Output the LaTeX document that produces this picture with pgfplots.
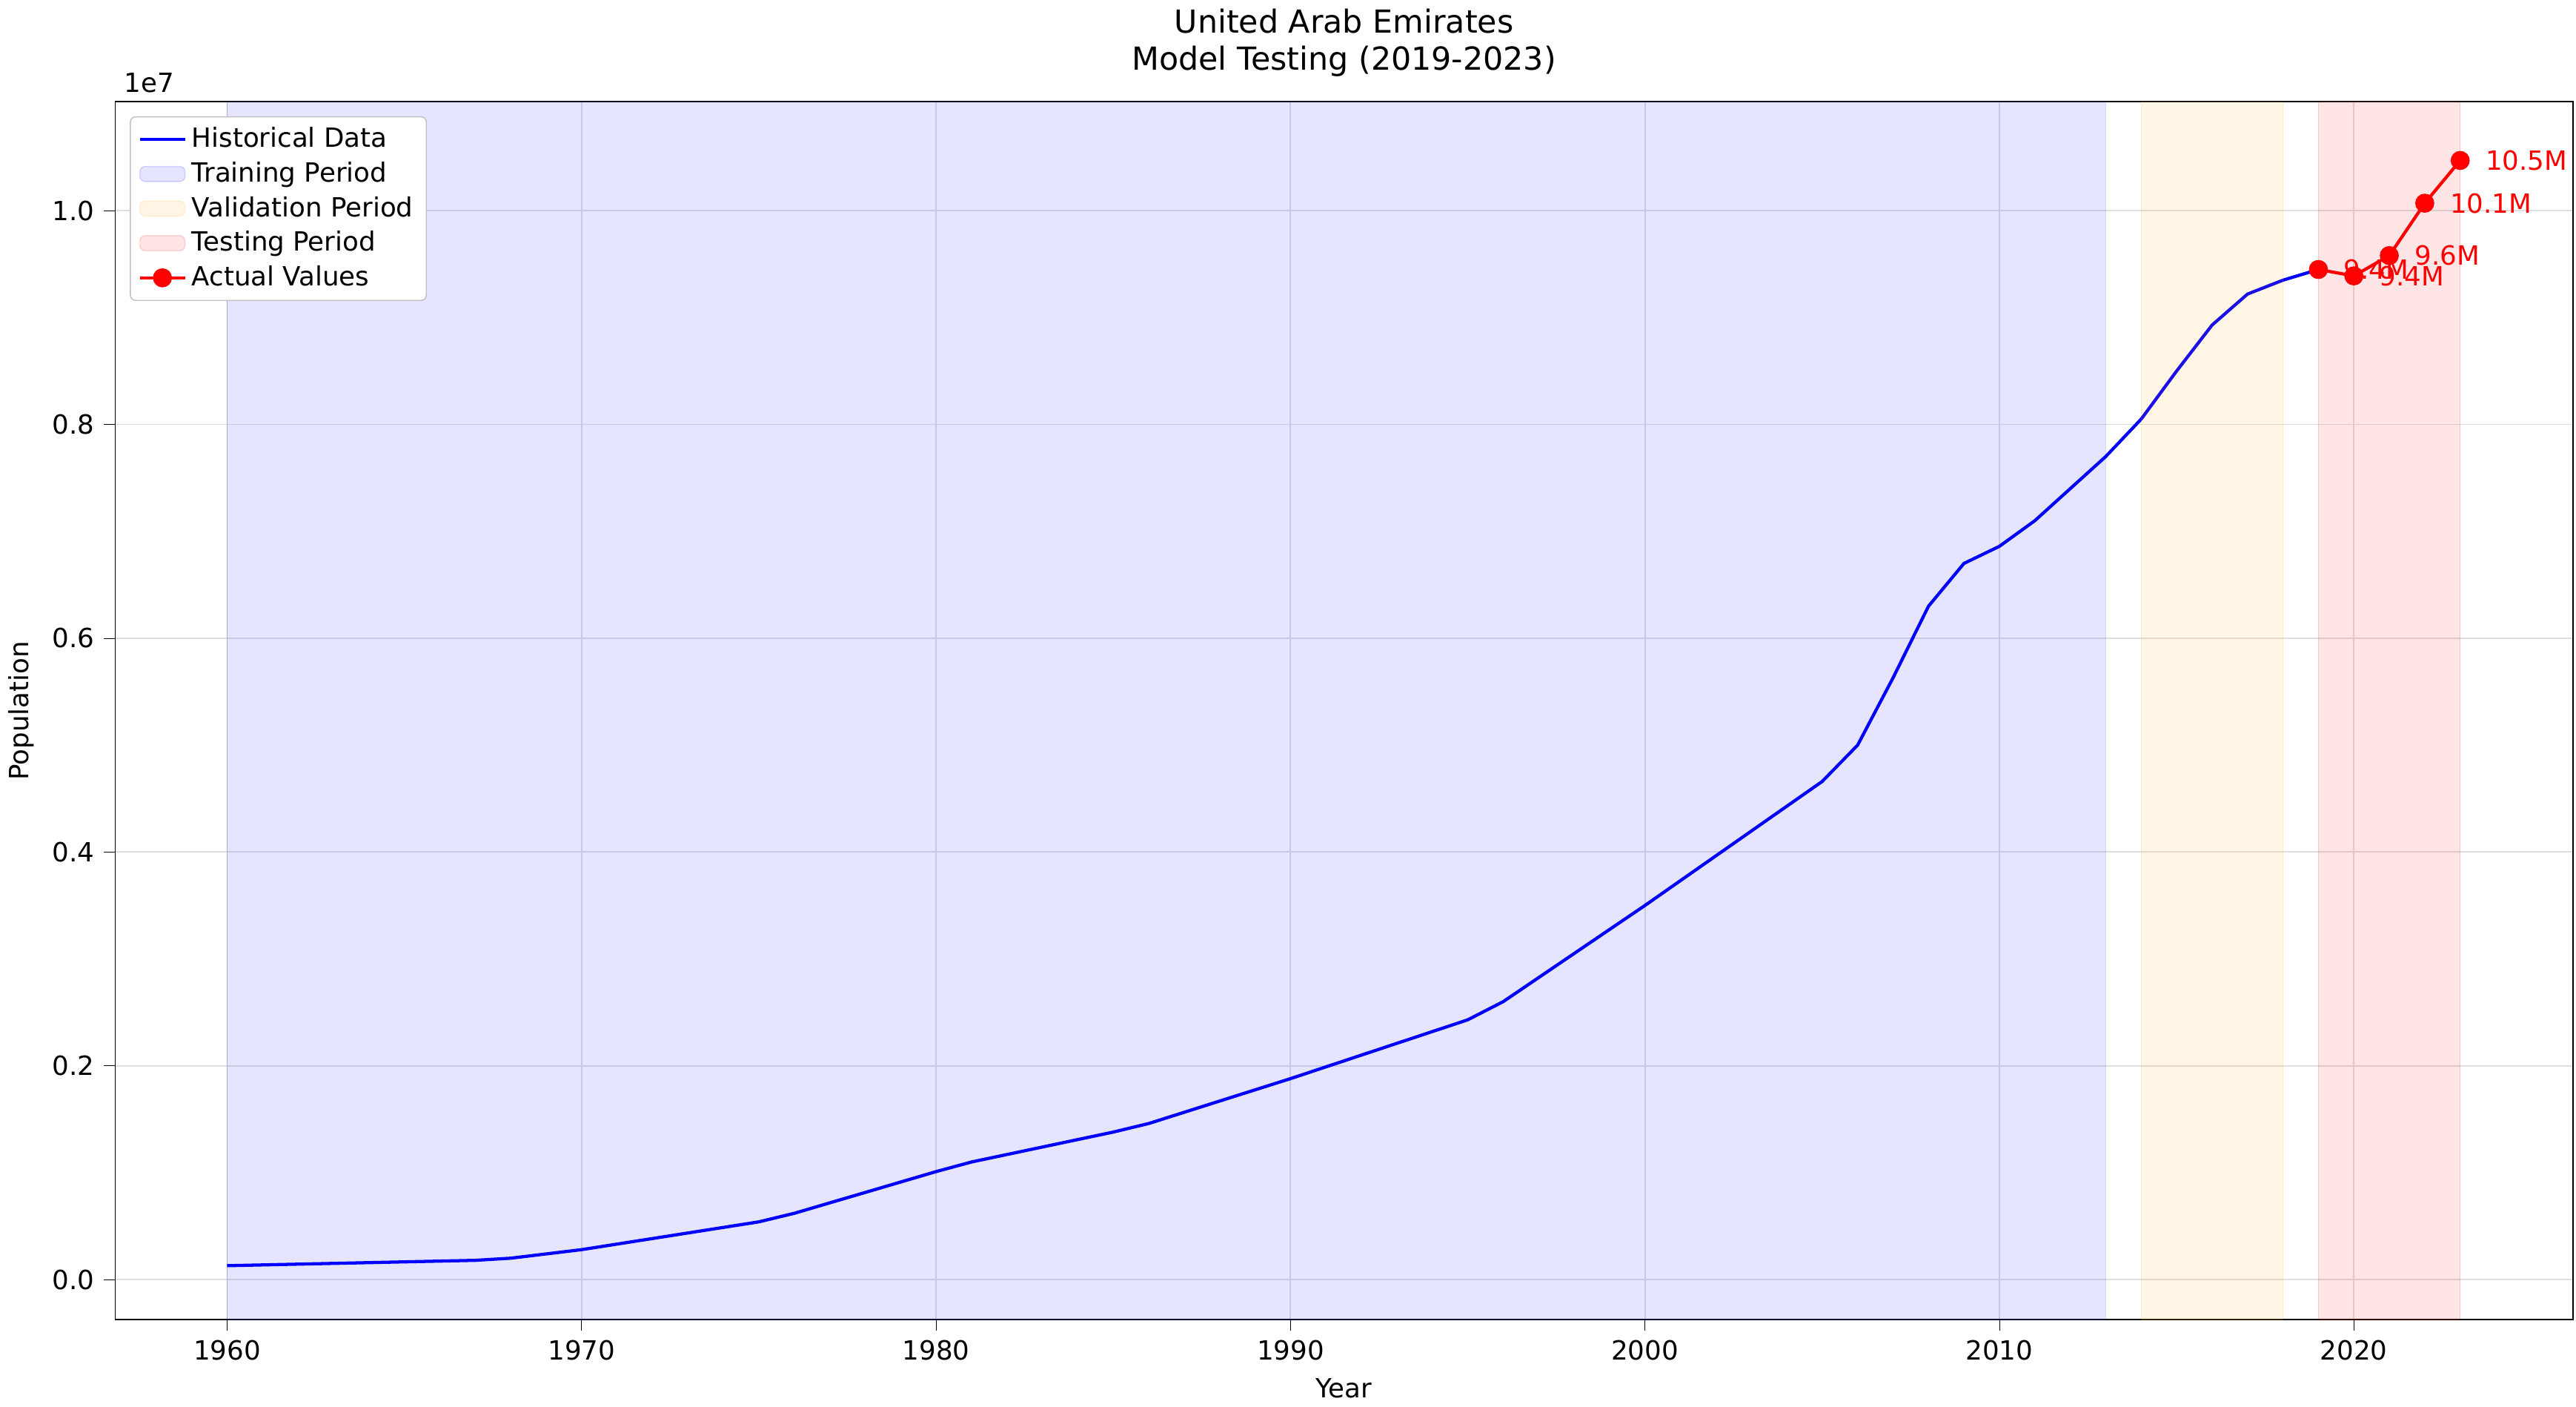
\documentclass[border=0pt]{standalone}
\usepackage{fontspec}
\setmainfont{DejaVu Sans}
\usepackage{pgfplots}
\pgfplotsset{compat=1.18}
\definecolor{mplorange}{rgb}{1,0.647,0}
\begin{document}
\begin{tikzpicture}
\begin{axis}[
  scale only axis, width=327mm, height=162mm,
  xmin=1956.84, xmax=2026.18, ymin=-0.375, ymax=11.02,
  xtick={1960,1970,...,2020},
  ytick={0,2,4,6,8,10},
  yticklabels={0.0,0.2,0.4,0.6,0.8,1.0},
  xtick pos=bottom, ytick pos=left,
  /pgf/number format/assume math mode=true,
  x tick label style={/pgf/number format/1000 sep={}},
  grid=major, grid style={gray!25, line width=0.5pt},
  tick align=outside, tick style={black},
  xlabel={Year}, ylabel={Population},
  title style={align=center, font=\large},
  title={United Arab Emirates\\Model Testing (2019-2023)},
  legend style={at={(0.006,0.988)}, anchor=north west, font=\normalsize, draw=gray!50, rounded corners=2pt},
  legend cell align=left,
  clip=true,
]
\addplot[blue, line width=1.2pt] coordinates {
(1960,0.13)(1967,0.18)(1968,0.20)(1970,0.28)(1975,0.54)(1976,0.62)(1980,1.01)(1981,1.10)(1985,1.38)(1986,1.46)(1990,1.88)(1995,2.43)(1996,2.60)(2000,3.50)(2005,4.66)(2006,5.00)(2007,5.63)(2008,6.30)(2009,6.70)(2010,6.86)(2011,7.10)(2012,7.40)(2013,7.70)(2014,8.05)(2015,8.50)(2016,8.93)(2017,9.22)(2018,9.35)(2019,9.45)};
\addlegendentry{Historical Data}
\addplot[fill=blue, fill opacity=0.1, draw=blue, draw opacity=0.15, area legend] coordinates {(1960,-0.375)(1960,11.02)(2013,11.02)(2013,-0.375)} -- cycle;
\addlegendentry{Training Period}
\addplot[fill=mplorange, fill opacity=0.1, draw=mplorange, draw opacity=0.15, area legend] coordinates {(2014,-0.375)(2014,11.02)(2018,11.02)(2018,-0.375)} -- cycle;
\addlegendentry{Validation Period}
\addplot[fill=red, fill opacity=0.1, draw=red, draw opacity=0.15, area legend] coordinates {(2019,-0.375)(2019,11.02)(2023,11.02)(2023,-0.375)} -- cycle;
\addlegendentry{Testing Period}
\addplot[red, line width=1.2pt, mark=*, mark size=3pt,
  nodes near coords, point meta=explicit symbolic,
  every node near coord/.style={anchor=west, xshift=2mm, text=red, font=\normalsize}]
  coordinates {(2019,9.45)[9.4M](2020,9.39)[9.4M](2021,9.58)[9.6M](2022,10.07)[10.1M](2023,10.47)[10.5M]};
\addlegendentry{Actual Values}
\end{axis}
\node[anchor=south west] at (0,162mm) {1e7};
\end{tikzpicture}
\end{document}
